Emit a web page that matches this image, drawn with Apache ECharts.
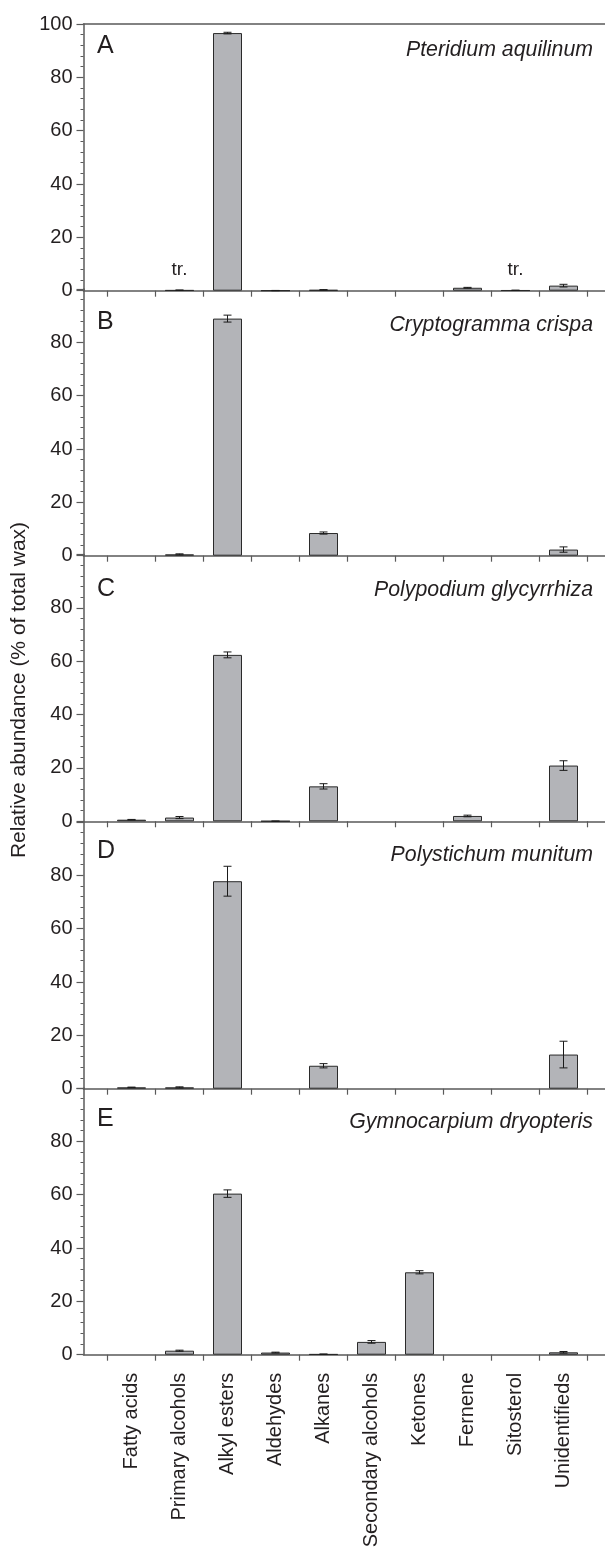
<!DOCTYPE html>
<html>
<head>
<meta charset="utf-8">
<script src="https://cdn.jsdelivr.net/npm/echarts@6/dist/echarts.min.js"></script>
<style>
  html, body { margin: 0; padding: 0; background: #fff; }
  #chart { width: 605px; height: 1554px; }
</style>
</head>
<body>
<div id="chart"></div>
<script>
// Wax composition classes (x axis)
const categories = ['Fatty acids', 'Primary alcohols', 'Alkyl esters', 'Aldehydes', 'Alkanes',
  'Secondary alcohols', 'Ketones', 'Fernene', 'Sitosterol', 'Unidentifieds'];

const panelLetters = ['A', 'B', 'C', 'D', 'E'];
const speciesNames = ['Pteridium aquilinum', 'Cryptogramma crispa', 'Polypodium glycyrrhiza',
  'Polystichum munitum', 'Gymnocarpium dryopteris'];

const yTickValues = [0, 20, 40, 60, 80, 100];

// Relative abundance (% of total wax), mean and error per class; null = not detected
const pteridiumMean = [null, 0.2, 96.6, 0.05, 0.3, null, null, 1.1, 0.15, 1.9];
const pteridiumErr  = [null, 0.05, 0.3, 0.05, 0.1, null, null, 0.15, 0.05, 0.5];
const pteridiumTrace = ['', 'tr.', '', '', '', '', '', '', 'tr.', ''];

const cryptogrammaMean = [null, 0.5, 88.9, null, 8.5, null, null, null, null, 2.3];
const cryptogrammaErr  = [null, 0.2, 1.3, null, 0.4, null, null, null, null, 1.0];

const polypodiumMean = [0.6, 1.4, 62.4, 0.05, 13.1, null, null, 2.0, null, 20.9];
const polypodiumErr  = [0.1, 0.4, 1.1, 0.05, 1.0, null, null, 0.3, null, 1.8];

const polystichumMean = [0.5, 0.5, 77.8, null, 8.6, null, null, null, null, 12.8];
const polystichumErr  = [0.1, 0.2, 5.6, null, 0.8, null, null, null, null, 5.0];

const gymnocarpiumMean = [null, 1.5, 60.4, 0.8, 0.2, 4.8, 30.9, null, null, 0.9];
const gymnocarpiumErr  = [null, 0.2, 1.4, 0.15, 0.05, 0.5, 0.6, null, null, 0.3];

const panelMeans = [pteridiumMean, cryptogrammaMean, polypodiumMean, polystichumMean, gymnocarpiumMean];
const panelErrs = [pteridiumErr, cryptogrammaErr, polypodiumErr, polystichumErr, gymnocarpiumErr];
const panelTrace = [pteridiumTrace, null, null, null, null];

// Layout: the x range runs past the last category boundary and is cut by the right edge
const GRID_LEFT = 83.5;
const PX_PER_CLASS = 48;
const X_MAX = (605 - GRID_LEFT) / PX_PER_CLASS;
const PANEL_H = 266.7;
const baselines = [290.7, 555.7, 821.3, 1088.7, 1354.7];
const letterY = [45.5, 322, 589, 851, 1119];
const speciesY = [52, 327, 592, 857, 1124];

const TEXT = '#231f20';
const AXIS = '#5a5a5a';
const FONT = '"Liberation Sans", Arial, Helvetica, sans-serif';

const tickPositions = categories.map((c, i) => i + 0.5).concat([categories.length + 0.5]);
const labelPositions = categories.map((c, i) => i + 1);

const grids = [], xAxes = [], yAxes = [], series = [], graphics = [];

panelMeans.forEach((means, p) => {
  const top = baselines[p] - PANEL_H;
  grids.push({ left: GRID_LEFT, right: 0, top: top, height: PANEL_H, containLabel: false });
  const last = p === panelMeans.length - 1;
  xAxes.push({
    type: 'value', gridIndex: p, min: 0, max: X_MAX, position: 'bottom',
    axisLine: { show: true, onZero: false, lineStyle: { color: AXIS, width: 1.5 } },
    axisTick: { show: true, customValues: tickPositions, length: 6, lineStyle: { color: AXIS, width: 1.2 } },
    axisLabel: {
      show: last, customValues: labelPositions, rotate: 90, margin: 18,
      color: TEXT, fontSize: 20, fontFamily: FONT,
      formatter: v => categories[Math.round(v) - 1] || ''
    },
    splitLine: { show: false }
  });
  yAxes.push({
    type: 'value', gridIndex: p, min: 0, max: 100, interval: 20,
    axisLine: { show: true, onZero: false, lineStyle: { color: AXIS, width: 1.5 } },
    axisTick: { show: true, length: 7, lineStyle: { color: AXIS, width: 1.2 } },
    minorTick: { show: true, splitNumber: 5, length: 3, lineStyle: { color: AXIS, width: 1 } },
    axisLabel: {
      margin: 11, color: TEXT, fontSize: 20, fontFamily: FONT,
      formatter: v => (p > 0 && v === 100) ? '' : String(v)
    },
    splitLine: { show: false }
  });

  const trace = panelTrace[p];
  series.push({
    type: 'bar', xAxisIndex: p, yAxisIndex: p, barWidth: 29,
    data: means.map((v, i) => [i + 1, v]).filter(d => d[1] !== null),
    itemStyle: { color: '#b3b4b8', borderColor: '#2a2a2a', borderWidth: 1 },
    label: {
      show: !!trace, position: 'top', distance: 11,
      color: TEXT, fontSize: 19, fontFamily: FONT,
      formatter: prm => trace ? trace[Math.round(prm.value[0]) - 1] : ''
    },
    silent: true, animation: false
  });

  const errs = panelErrs[p];
  series.push({
    type: 'custom', xAxisIndex: p, yAxisIndex: p,
    data: means.map((v, i) => v === null ? null : [i + 1, v - errs[i], v + errs[i]]).filter(d => d),
    encode: { x: 0, y: [1, 2] },
    renderItem: (params, api) => {
      const x = api.value(0);
      const hi = api.coord([x, api.value(2)]);
      const lo = api.coord([x, api.value(1)]);
      const cap = 4;
      const st = { stroke: '#1a1a1a', lineWidth: 1 };
      return {
        type: 'group',
        children: [
          { type: 'line', shape: { x1: hi[0], y1: hi[1], x2: lo[0], y2: lo[1] }, style: st },
          { type: 'line', shape: { x1: hi[0] - cap, y1: hi[1], x2: hi[0] + cap, y2: hi[1] }, style: st },
          { type: 'line', shape: { x1: lo[0] - cap, y1: lo[1], x2: lo[0] + cap, y2: lo[1] }, style: st }
        ]
      };
    },
    silent: true, animation: false, z: 3
  });

  graphics.push({
    type: 'text', left: 97, top: letterY[p] - 12,
    style: { text: panelLetters[p], fill: TEXT, fontSize: 25, fontFamily: FONT }
  });
  graphics.push({
    type: 'text', right: 12, top: speciesY[p] - 12,
    style: { text: speciesNames[p], fill: TEXT, fontSize: 21.3, fontStyle: 'italic', fontFamily: FONT }
  });
});

// Top frame line of the first panel
xAxes.push({
  type: 'value', gridIndex: 0, min: 0, max: X_MAX, position: 'top',
  axisLine: { show: true, onZero: false, lineStyle: { color: AXIS, width: 1.5 } },
  axisTick: { show: false }, axisLabel: { show: false }, splitLine: { show: false }
});

// Shared y-axis title
graphics.push({
  type: 'text', x: 19, y: 690, rotation: Math.PI / 2,
  style: {
    text: 'Relative abundance (% of total wax)', fill: TEXT, fontSize: 21, fontFamily: FONT,
    align: 'center', verticalAlign: 'middle'
  }
});

const chart = echarts.init(document.getElementById('chart'), null, { renderer: 'canvas' });
chart.setOption({
  backgroundColor: '#ffffff',
  animation: false,
  grid: grids,
  xAxis: xAxes,
  yAxis: yAxes,
  series: series,
  graphic: graphics
});
</script>
</body>
</html>
